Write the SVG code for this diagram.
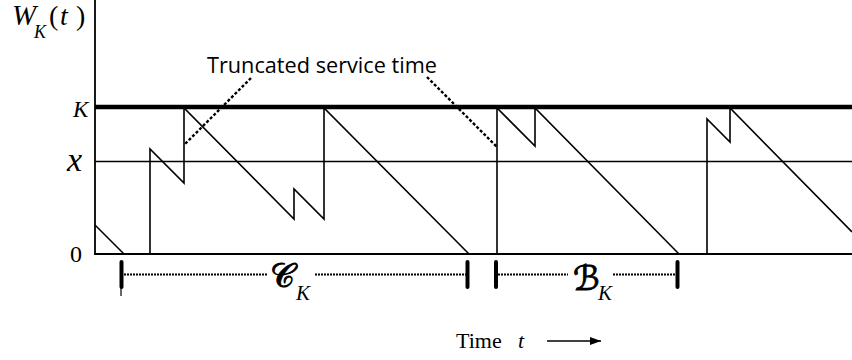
<svg xmlns="http://www.w3.org/2000/svg" width="852" height="360" viewBox="0 0 852 360">
<style>
.ln{fill:none;stroke:#000;stroke-width:1.6;stroke-linejoin:miter}
.ax{fill:none;stroke:#000;stroke-width:1.8}
.call{fill:none;stroke:#000;stroke-width:2.4;stroke-dasharray:3,2}
.dot{fill:none;stroke:#000;stroke-width:2;stroke-dasharray:2,1}
.bar{fill:none;stroke:#000;stroke-width:4;stroke-linecap:round}
.tm{font-family:"Liberation Serif","Times New Roman",serif;fill:#000}
.it{font-style:italic}
.sc{font-family:"DejaVu Serif","DejaVu Sans","Liberation Serif",serif;font-style:normal;fill:#000;stroke:#000;stroke-width:0.9}
.sn{font-family:"Open Sans","Liberation Sans",sans-serif;fill:#000}
</style>
<defs>
<marker id="ah" markerWidth="12" markerHeight="10" refX="11" refY="4" orient="auto" markerUnits="userSpaceOnUse">
<path d="M0,0 L11,4 L0,8 Z" fill="#000"/>
</marker>
</defs>
<g id="axes">
<line class="ax" x1="95" y1="0" x2="95" y2="255"/>
<line class="ax" x1="94" y1="254" x2="852" y2="254"/>
<line x1="95" y1="107" x2="852" y2="107" stroke="#000" stroke-width="4.5"/>
<line x1="95" y1="161.5" x2="852" y2="161.5" stroke="#000" stroke-width="1.6"/>
</g>
<g id="labels">
<text class="tm it" x="12" y="25" font-size="29">W</text>
<text class="tm it" x="34" y="38" font-size="18">K</text>
<text class="tm" x="49" y="25" font-size="28">(</text>
<text class="tm it" x="60" y="25" font-size="28">t</text>
<text class="tm" x="76" y="25" font-size="28">)</text>
<text class="tm it" x="73" y="117" font-size="23">K</text>
<text class="tm it" x="67" y="171" font-size="34">x</text>
<text class="tm" x="70" y="262" font-size="24">0</text>
</g>
<g id="sawtooth">
<path class="ln" d="M95,225 L124,254"/>
<path class="ln" d="M150,254 V149 L184,183 V108 L294,219 V189 L324,219 V108 L469,254"/>
<path class="ln" d="M497,254 V108 L535,146 V108 L679,254"/>
<path class="ln" d="M707,254 V119 L730,142 V108 L852,232"/>
</g>
<g id="callout">
<text class="sn" x="207" y="73" font-size="21" textLength="230" lengthAdjust="spacingAndGlyphs">Truncated service time</text>
<g id="connectors">
<line class="call" x1="251" y1="78" x2="184" y2="145"/>
<line class="call" x1="427" y1="77" x2="497" y2="147"/>
</g>
</g>
<g id="cycle">
<line class="bar" x1="121.5" y1="262" x2="121.5" y2="287"/>
<line x1="121" y1="287" x2="121" y2="296" stroke="#000" stroke-width="1.2"/>
<line class="dot" x1="124" y1="274.5" x2="268" y2="274.5"/>
<text class="sc" x="270" y="287" font-size="34">𝒞</text>
<text class="tm it" x="296" y="300" font-size="21">K</text>
<line class="dot" x1="315" y1="274.5" x2="466" y2="274.5"/>
<line class="bar" x1="467.5" y1="262" x2="467.5" y2="287"/>
</g>
<g id="busy">
<line class="bar" x1="496" y1="262" x2="496" y2="287"/>
<line class="dot" x1="498" y1="274.5" x2="568" y2="274.5"/>
<text class="sc" x="573" y="290" font-size="34">ℬ</text>
<text class="tm it" x="598" y="300" font-size="21">K</text>
<line class="dot" x1="613" y1="274.5" x2="676" y2="274.5"/>
<line class="bar" x1="677.5" y1="262" x2="677.5" y2="287"/>
</g>
<g id="timeaxis">
<text class="tm" x="456" y="348" font-size="22">Time</text>
<text class="tm it" x="518" y="348" font-size="22">t</text>
<line x1="547" y1="341" x2="601" y2="341" stroke="#000" stroke-width="1.6" marker-end="url(#ah)"/>
</g>
</svg>
